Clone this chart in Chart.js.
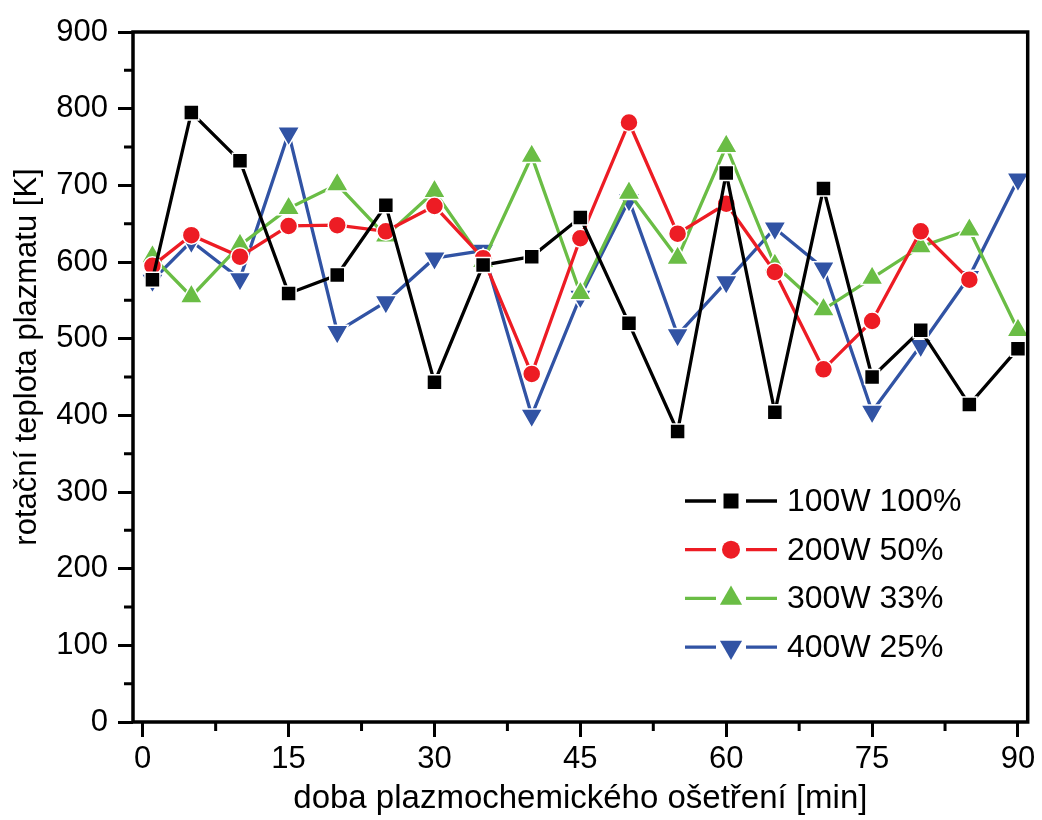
<!DOCTYPE html>
<html>
<head>
<meta charset="utf-8">
<script src="https://cdn.jsdelivr.net/npm/chart.js@4.4.0/dist/chart.umd.min.js"></script>
<style>
  html, body { margin: 0; padding: 0; background: #fff; }
  canvas { display: block; }
</style>
</head>
<body>
<canvas id="plasmaChart" width="1042" height="820"></canvas>
<script>
// doba ošetření [min]
const times = [1, 5, 10, 15, 20, 25, 30, 35, 40, 45, 50, 55, 60, 65, 70, 75, 80, 85, 90];

// rotační teplota [K]
const w100 = [577, 795, 732, 559, 583, 674, 443, 596, 607, 658, 520, 379, 716, 404, 696, 450, 511, 414, 487];
const w200 = [595, 635, 607, 647, 648, 640, 673, 605, 454, 631, 782, 637, 676, 587, 460, 523, 640, 577, null];
const w300 = [607, 555, 622, 670, 701, 634, 692, 601, 738, 559, 690, 605, 751, 596, 538, 579, 620, 642, 511];
const w400 = [576, 627, 578, 768, 509, 548, 605, 615, 400, 555, 681, 505, 574, 644, 592, 405, 491, 581, 708];

const seriesNames = ['100W 100%', '200W 50%', '300W 33%', '400W 25%'];
const xTicks = [0, 15, 30, 45, 60, 75, 90];
const yTicks = [0, 100, 200, 300, 400, 500, 600, 700, 800, 900];

const FONT = "'Liberation Sans', Arial, sans-serif";
const yTitle = 'rotační teplota plazmatu [K]';

function toPoints(vals) {
    return times.map((t, i) => ({ x: t, y: vals[i] }));
}

function ds(label, vals, color, style, radius, rotation) {
    return {
        label: label,
        data: toPoints(vals),
        borderColor: color,
        backgroundColor: color,
        borderWidth: 3.3,
        pointStyle: style,
        pointRadius: radius,
        pointRotation: rotation || 0,
        pointBorderColor: '#fff',
        pointBorderWidth: 1.5,
        pointBackgroundColor: color,
        spanGaps: false,
        tension: 0
    };
}

const datasets = [
    ds(seriesNames[0], w100, '#000000', 'rect', 10.6),
    ds(seriesNames[1], w200, '#ed1c24', 'circle', 9),
    ds(seriesNames[2], w300, '#6abd45', 'triangle', 12.8),
    ds(seriesNames[3], w400, '#3153a4', 'triangle', 12.8, 180)
];

// rámeček, vedlejší dílky, popisek osy y
const framePlugin = {
    id: 'frame',
    afterDraw(chart) {
        const { ctx, chartArea: a } = chart;
        const xs = chart.scales.x, ys = chart.scales.y;
        ctx.save();
        ctx.strokeStyle = '#000';
        ctx.lineWidth = 3.5;
        ctx.strokeRect(a.left, a.top, a.right - a.left, a.bottom - a.top);
        ctx.lineWidth = 3;
        ctx.beginPath();
        for (let v = 7.5; v < 90; v += 15) {
            const px = xs.getPixelForValue(v);
            ctx.moveTo(px, a.bottom);
            ctx.lineTo(px, a.bottom + 9);
        }
        for (let v = 50; v < 900; v += 100) {
            const py = ys.getPixelForValue(v);
            ctx.moveTo(a.left, py);
            ctx.lineTo(a.left - 9, py);
        }
        ctx.stroke();

        ctx.translate(27, 357);
        ctx.rotate(-Math.PI / 2);
        ctx.fillStyle = '#000';
        ctx.font = '31px ' + FONT;
        ctx.textAlign = 'center';
        ctx.textBaseline = 'middle';
        ctx.fillText(yTitle, 0, 0);
        ctx.restore();
    }
};

// legenda ve stylu Origin
const legendPlugin = {
    id: 'originLegend',
    afterDraw(chart, args, opts) {
        const { ctx } = chart;
        ctx.save();
        chart.data.datasets.forEach((d, i) => {
            const y = opts.top + i * opts.rowGap;
            const x0 = opts.left, x1 = opts.left + opts.lineLen;
            const xm = (x0 + x1) / 2;
            ctx.strokeStyle = d.borderColor;
            ctx.lineWidth = d.borderWidth;
            ctx.beginPath();
            ctx.moveTo(x0, y);
            ctx.lineTo(xm - 15, y);
            ctx.moveTo(xm + 15, y);
            ctx.lineTo(x1, y);
            ctx.stroke();
            ctx.fillStyle = d.pointBackgroundColor;
            ctx.strokeStyle = d.pointBackgroundColor;
            Chart.helpers.drawPoint(ctx, {
                pointStyle: d.pointStyle,
                rotation: d.pointRotation,
                radius: d.pointRadius,
                borderWidth: 0
            }, xm, y);
            ctx.fillStyle = '#000';
            ctx.font = opts.font;
            ctx.textBaseline = 'middle';
            ctx.textAlign = 'left';
            ctx.fillText(d.label, x1 + 10, y + 1);
        });
        ctx.restore();
    }
};

new Chart(document.getElementById('plasmaChart'), {
    type: 'line',
    data: { datasets: datasets },
    options: {
        responsive: false,
        animation: false,
        devicePixelRatio: 1,
        layout: { padding: { left: 0, right: 12, top: 32, bottom: 0 } },
        scales: {
            x: {
                type: 'linear',
                min: -1,
                max: 91,
                afterBuildTicks: s => { s.ticks = xTicks.map(v => ({ value: v })); },
                afterFit: s => { s.height = 98; },
                grid: { drawOnChartArea: false, tickLength: 15, tickWidth: 3, color: '#000' },
                border: { display: false },
                ticks: { color: '#000', font: { family: FONT, size: 31 }, padding: 4, maxRotation: 0 },
                title: {
                    display: true,
                    text: 'doba plazmochemického ošetření [min]',
                    color: '#000',
                    font: { family: FONT, size: 33 },
                    padding: { top: 0, bottom: 1 }
                }
            },
            y: {
                min: 0,
                max: 900,
                afterBuildTicks: s => { s.ticks = yTicks.map(v => ({ value: v })); },
                afterFit: s => { s.width = 133; },
                grid: { drawOnChartArea: false, tickLength: 15, tickWidth: 3, color: '#000' },
                border: { display: false },
                ticks: { color: '#000', font: { family: FONT, size: 31 }, padding: 10 }
            }
        },
        plugins: {
            legend: { display: false },
            tooltip: { enabled: false },
            originLegend: { left: 685, top: 501, rowGap: 48.7, lineLen: 92, font: '32px ' + FONT }
        }
    },
    plugins: [framePlugin, legendPlugin]
});
</script>
</body>
</html>
